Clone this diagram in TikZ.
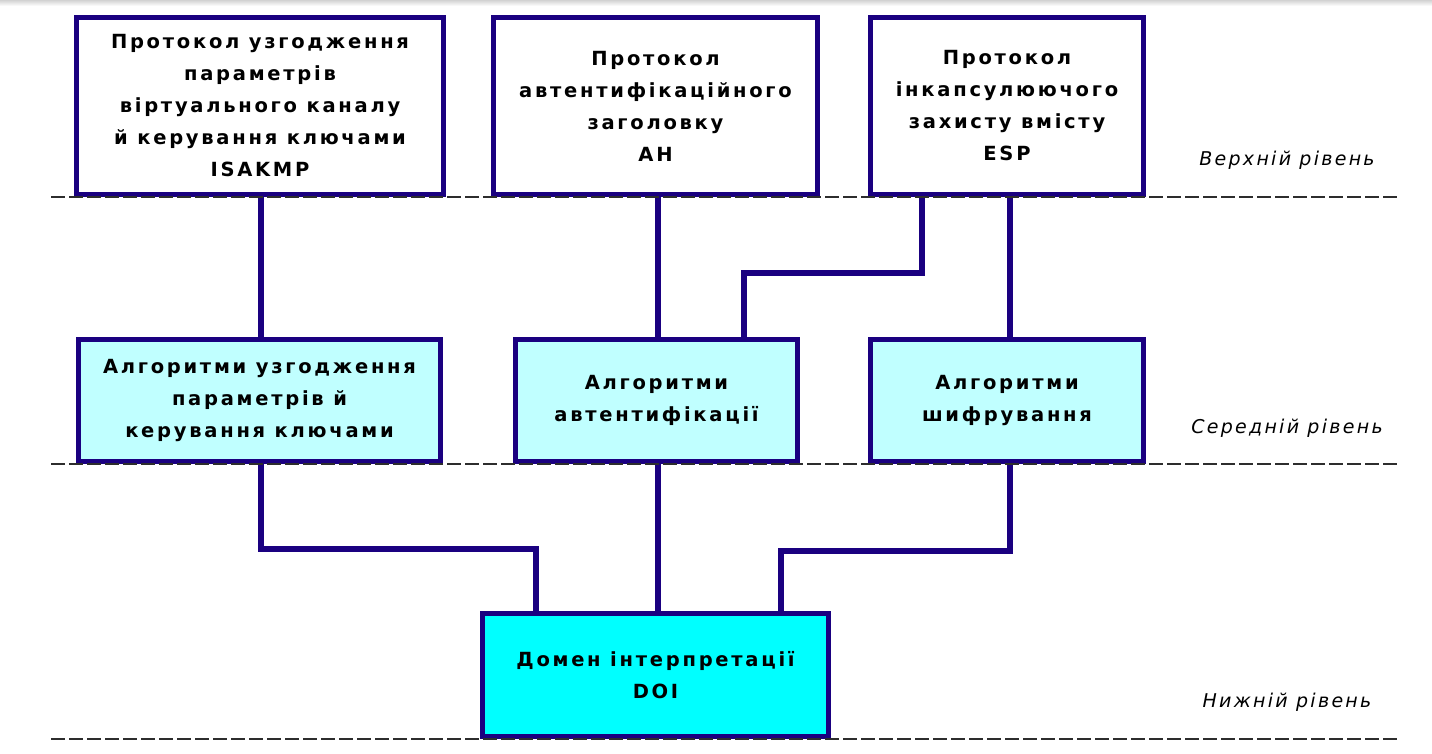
\documentclass[tikz,border=0pt]{standalone}
\usepackage{fontspec}
\setmainfont{DejaVu Sans}
\newfontfamily\boxfont{DejaVu Sans}[LetterSpace=14]
\newfontfamily\lvlfont{DejaVu Sans}[LetterSpace=12]
\definecolor{navyline}{RGB}{26,0,128}
\definecolor{midfill}{RGB}{192,255,255}
\definecolor{lowfill}{RGB}{0,255,255}
\definecolor{dashgray}{RGB}{45,45,45}
\begin{document}
\begin{tikzpicture}[x=1pt,y=-1pt,
  box/.style={draw=navyline, line width=5.5pt, fill=white, inner sep=0pt,
    align=center, font=\boxfont\bfseries\fontsize{19.5}{32}\selectfont},
  midbox/.style={box, fill=midfill},
  lowbox/.style={box, fill=lowfill},
  conn/.style={draw=navyline, line width=6pt},
  level/.style={dashgray, line width=1.6pt, dash pattern=on 14pt off 4pt},
  lvltext/.style={font=\lvlfont\itshape\fontsize{19}{22}\selectfont, inner sep=0pt}]
\useasboundingbox (0,0) rectangle (1432,754);
\shade[top color=gray!35, bottom color=white] (0,0) rectangle (1432,6);
% upper level
\node[box, minimum width=367pt, minimum height=177pt] (b1) at (260,106)
  {Протокол узгодження\\параметрів\\віртуального каналу\\й керування ключами\\ISAKMP};
\node[box, minimum width=324pt, minimum height=177pt] (b2) at (655.5,106)
  {Протокол\\автентифікаційного\\заголовку\\AH};
\node[box, minimum width=273pt, minimum height=177pt] (b3) at (1007,106)
  {Протокол\\інкапсулюючого\\захисту вмісту\\ESP};
% middle level
\node[midbox, minimum width=362pt, minimum height=122pt] (m1) at (259.5,400.5)
  {Алгоритми узгодження\\параметрів й\\керування ключами};
\node[midbox, minimum width=282pt, minimum height=122pt] (m2) at (656.5,400.5)
  {Алгоритми\\автентифікації};
\node[midbox, minimum width=273pt, minimum height=122pt] (m3) at (1007,400.5)
  {Алгоритми\\шифрування};
% lower level
\node[lowbox, minimum width=346pt, minimum height=123pt] (d) at (655.5,675)
  {Домен інтерпретації\\DOI};
% junction coordinates
\coordinate (cx) at (260.5,0);
\coordinate (k1) at (922,273);
\coordinate (k2) at (744,273);
\coordinate (jl) at (536,549);
\coordinate (jr) at (781,551);
% connectors
\draw[conn] (b1.south -| cx) -- (m1.north -| cx);
\draw[conn] (b2.south -| 658,0) -- (m2.north -| 658,0);
\draw[conn] (b3.south -| k1) -- (k1) -- (k2) -- (m2.north -| k2);
\draw[conn] (b3.south -| 1010,0) -- (m3.north -| 1010,0);
\draw[conn] (m1.south -| cx) |- (jl) -- (d.north -| jl);
\draw[conn] (m2.south -| 658,0) -- (d.north -| 658,0);
\draw[conn] (m3.south -| 1010,0) |- (jr) -- (d.north -| jr);
% levels
\coordinate (l1a) at (51,197); \coordinate (l1b) at (1400,197);
\coordinate (l2a) at (51,464); \coordinate (l2b) at (1400,464);
\coordinate (l3a) at (51,739); \coordinate (l3b) at (1400,739);
\draw[level] (l1a) -- (l1b);
\draw[level] (l2a) -- (l2b);
\draw[level] (l3a) -- (l3b);
\node[lvltext] (t1) at (1287,160) {Верхній рівень};
\node[lvltext] (t2) at (1287,428) {Середній рівень};
\node[lvltext] (t3) at (1287,702) {Нижній рівень};
\end{tikzpicture}
\end{document}
